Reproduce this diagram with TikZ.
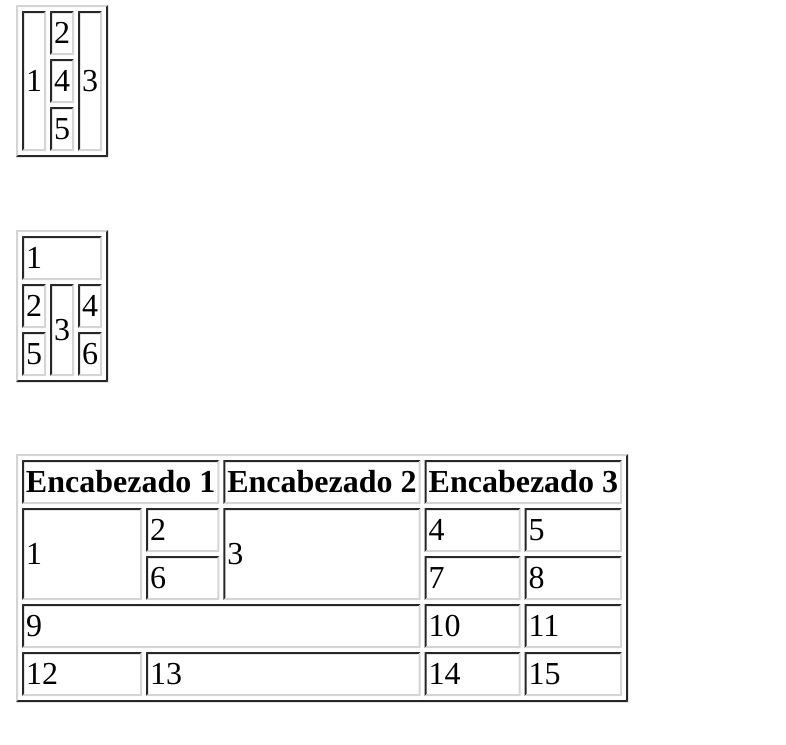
\documentclass[tikz,border=0pt]{standalone}
\usepackage{fontspec}
\setmainfont{Liberation Serif}
\definecolor{lt}{RGB}{212,212,212}
\definecolor{dk}{RGB}{38,38,38}
\tikzset{
  celltext/.style={inner sep=0pt, outer sep=0pt, text=black, font=\fontsize{32}{36}\selectfont},
  headtext/.style={celltext, font=\fontsize{32}{36}\selectfont\bfseries},
}
% bevelled box: x0,y0,x1,y1, top-left colour, bottom-right colour
\newcommand\bevelbox[6]{%
  \fill[#5] (#1,#2) -- (#3,#2) -- ({#3-2},{#2+2}) -- ({#1+2},{#2+2}) -- cycle;
  \fill[#5] (#1,#2) -- ({#1+2},{#2+2}) -- ({#1+2},{#4-2}) -- (#1,#4) -- cycle;
  \fill[#6] (#1,#4) -- ({#1+2},{#4-2}) -- ({#3-2},{#4-2}) -- (#3,#4) -- cycle;
  \fill[#6] (#3,#2) -- (#3,#4) -- ({#3-2},{#4-2}) -- ({#3-2},{#2+2}) -- cycle;
}
% data cell: name, x0, y0, x1, y1, text
\newcommand\tdcell[6]{%
  \bevelbox{#2}{#3}{#4}{#5}{dk}{lt}
  \node[celltext, anchor=base west] (#1) at ({#2+4},{(#3+#5)/2+10.8}) {#6};
}
% header cell: name, x0, y0, x1, y1, text
\newcommand\thcell[6]{%
  \bevelbox{#2}{#3}{#4}{#5}{dk}{lt}
  \node[headtext, anchor=base] (#1) at ({(#2+#4)/2},{(#3+#5)/2+10.8}) {#6};
}
\begin{document}
\begin{tikzpicture}[x=1pt,y=-1pt]
\useasboundingbox (0,0) rectangle (786,744);
% ---------- table 1 ----------
\bevelbox{16}{5}{108}{157}{lt}{dk}
\tdcell{ta1}{22}{11}{46}{151}{1}
\tdcell{ta2}{50}{11}{74}{55}{2}
\tdcell{ta4}{50}{59}{74}{103}{4}
\tdcell{ta5}{50}{107}{74}{151}{5}
\tdcell{ta3}{78}{11}{102}{151}{3}
% ---------- table 2 ----------
\bevelbox{16}{230}{108}{382}{lt}{dk}
\tdcell{tb1}{22}{236}{102}{280}{1}
\tdcell{tb2}{22}{284}{46}{328}{2}
\tdcell{tb5}{22}{332}{46}{376}{5}
\tdcell{tb3}{50}{284}{74}{376}{3}
\tdcell{tb4}{78}{284}{102}{328}{4}
\tdcell{tb6}{78}{332}{102}{376}{6}
% ---------- table 3 ----------
\bevelbox{16}{454}{628}{702}{lt}{dk}
\thcell{h1}{22}{460}{219.3}{504}{Encabezado 1}
\thcell{h2}{223.3}{460}{420.7}{504}{Encabezado 2}
\thcell{h3}{424.7}{460}{622}{504}{Encabezado 3}
\tdcell{tc1}{22}{508}{142}{600}{1}
\tdcell{tc2}{146}{508}{219.3}{552}{2}
\tdcell{tc6}{146}{556}{219.3}{600}{6}
\tdcell{tc3}{223.3}{508}{420.7}{600}{3}
\tdcell{tc4}{424.7}{508}{520.5}{552}{4}
\tdcell{tc5}{524.5}{508}{622}{552}{5}
\tdcell{tc7}{424.7}{556}{520.5}{600}{7}
\tdcell{tc8}{524.5}{556}{622}{600}{8}
\tdcell{tc9}{22}{604}{420.7}{648}{9}
\tdcell{tc10}{424.7}{604}{520.5}{648}{10}
\tdcell{tc11}{524.5}{604}{622}{648}{11}
\tdcell{tc12}{22}{652}{142}{696}{12}
\tdcell{tc13}{146}{652}{420.7}{696}{13}
\tdcell{tc14}{424.7}{652}{520.5}{696}{14}
\tdcell{tc15}{524.5}{652}{622}{696}{15}
\end{tikzpicture}
\end{document}
